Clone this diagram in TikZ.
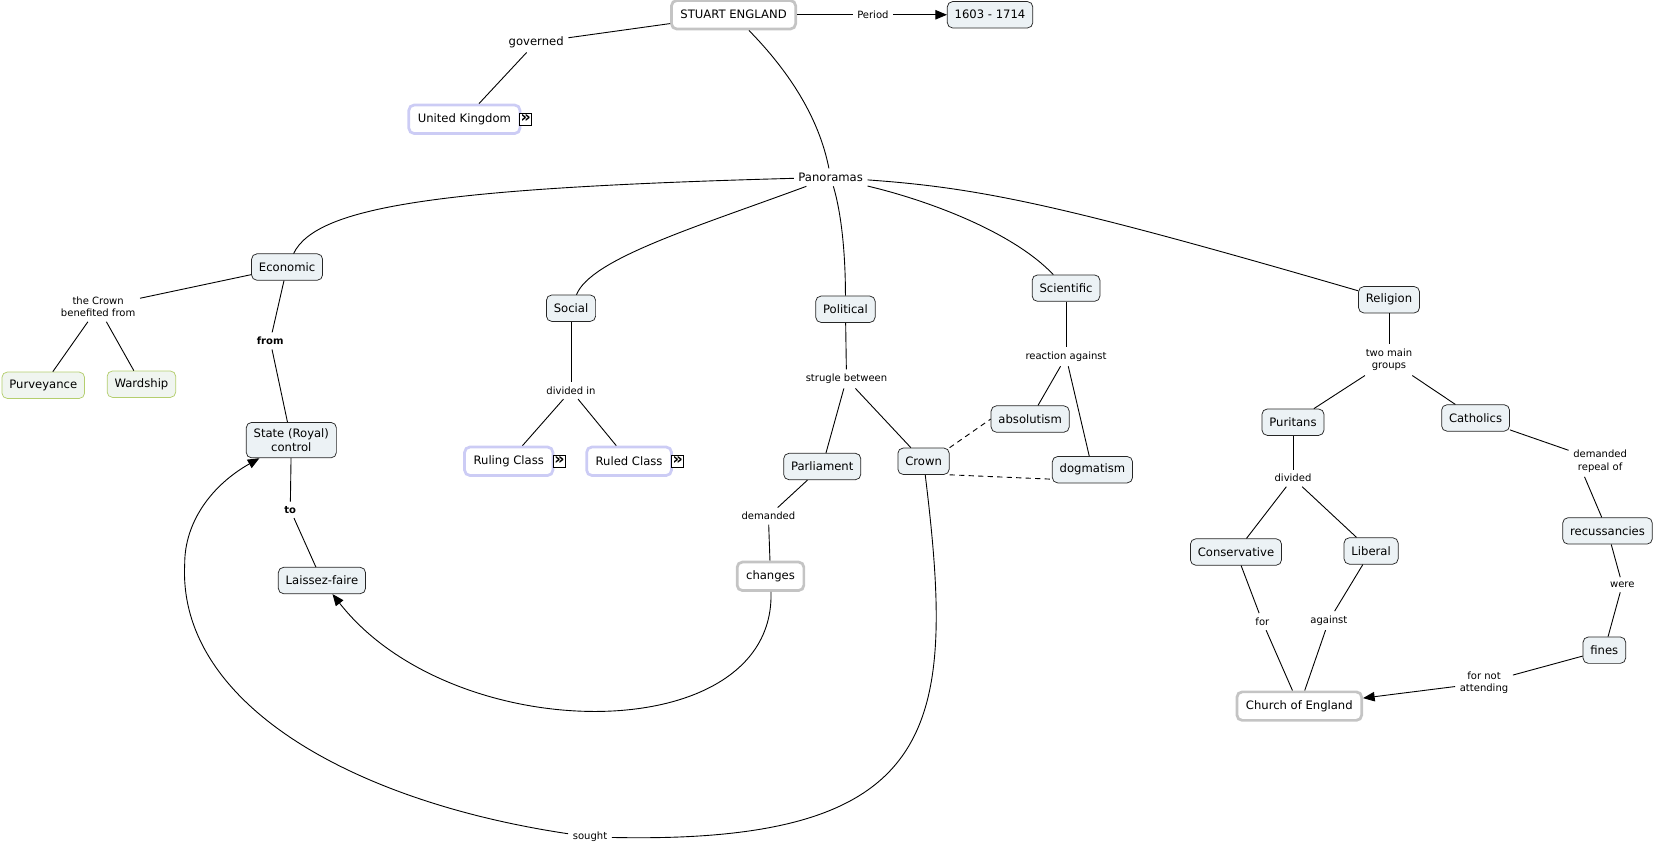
\documentclass[tikz,border=0pt]{standalone}
\usepackage{fontspec}
\setmainfont{DejaVu Sans}
\usetikzlibrary{arrows.meta}

\definecolor{conceptfill}{RGB}{236,242,245}
\definecolor{mainborder}{RGB}{196,196,196}
\definecolor{linkborder}{RGB}{204,204,245}
\definecolor{leafborder}{RGB}{180,206,110}
\definecolor{leaffill}{RGB}{240,245,240}

\begin{document}
\begin{tikzpicture}[x=1pt, y=-1pt, line width=0.85pt,
  concept/.style={draw=black!85, rounded corners=5pt, fill=conceptfill, align=center,
    font=\fontsize{11}{13}\selectfont, inner xsep=7pt, inner ysep=6pt,
    minimum height=25pt, line width=0.7pt},
  mainconcept/.style={concept, draw=mainborder, fill=white, line width=2.6pt,
    inner xsep=8.5pt, minimum height=27pt},
  linkconcept/.style={mainconcept, draw=linkborder},
  leafconcept/.style={concept, draw=leafborder, fill=leaffill},
  phrase/.style={align=center, inner sep=4pt, font=\fontsize{9.5}{11.5}\selectfont},
  bigphrase/.style={phrase, font=\fontsize{11}{13}\selectfont},
  boldphrase/.style={phrase, font=\fontsize{9.5}{11.5}\selectfont\bfseries},
  more/.style={draw, fill=white, line width=0.8pt, inner sep=0pt, minimum size=11.5pt,
    font=\fontsize{15}{15}\selectfont\bfseries},
  arrowed/.style={-{Triangle[length=11pt,width=9pt]}}]
  \useasboundingbox (0,0) rectangle (1568,802);

  % top of the map
  \node[mainconcept] (stuart) at (695,14) {STUART ENGLAND};
  \node[concept] (years) at (938,14) {1603 - 1714};
  \node[phrase] (period) at (827,14) {Period};
  \node[bigphrase] (governed) at (508,40) {governed};
  \node[linkconcept] (uk) at (440,113) {United Kingdom};
  \node[more] (ukmore) at (498,113) {\raisebox{1pt}{»}};
  \node[bigphrase] (pan) at (787,168) {Panoramas};

  \draw (stuart) -- (period);
  \draw[arrowed] (period) -- (years);
  \draw (stuart) -- (governed);
  \draw (governed) -- (uk);
  \draw (stuart) .. controls (748,68) and (776,112) .. (pan);

  % economic
  \node[concept] (econ) at (272,253) {Economic};
  \node[phrase] (benefit) at (93,291) {the Crown\\benefited from};
  \node[leafconcept] (purv) at (41,365) {Purveyance};
  \node[leafconcept] (ward) at (134,364) {Wardship};
  \node[boldphrase] (from) at (256,323) {from};
  \node[concept] (state) at (276,417) {State (Royal)\\control};
  \node[boldphrase] (to) at (275,483) {to};
  \node[concept] (laissez) at (305,550) {Laissez-faire};

  \draw (econ) -- (benefit);
  \draw (benefit) -- (purv);
  \draw (benefit) -- (ward);
  \draw (econ) -- (from);
  \draw (from) -- (state);
  \draw (state) -- (to);
  \draw (to) -- (laissez);

  % social
  \node[concept] (social) at (541,292) {Social};
  \node[phrase] (dividedin) at (541,370) {divided in};
  \node[linkconcept] (ruling) at (482,437) {Ruling Class};
  \node[more] (rulingmore) at (530,437) {\raisebox{1pt}{»}};
  \node[linkconcept] (ruled) at (596,437) {Ruled Class};
  \node[more] (ruledmore) at (642,437) {\raisebox{1pt}{»}};

  \draw (social) -- (dividedin);
  \draw (dividedin) -- (ruling);
  \draw (dividedin) -- (ruled);

  % political
  \node[concept] (political) at (801,293) {Political};
  \node[phrase] (strugle) at (802,359) {strugle between};
  \node[concept] (parliament) at (779,442) {Parliament};
  \node[concept] (crown) at (875,437) {Crown};
  \node[phrase] (demanded) at (728,489) {demanded};
  \node[mainconcept] (changes) at (730,546) {changes};
  \node[phrase] (sought) at (559,793) {sought};

  \draw (political) -- (strugle);
  \draw (strugle) -- (parliament);
  \draw (strugle) -- (crown);
  \draw (parliament) -- (demanded);
  \draw (demanded) -- (changes);
  \draw[arrowed] (changes) .. controls (735,710) and (430,710) .. (laissez);
  \draw (crown) .. controls (906,690) and (892,800) .. (sought);
  \draw[arrowed] (sought) .. controls (331,759) and (168,665) .. (175,534)
    .. controls (175,495) and (200,460) .. (state);

  % scientific
  \node[concept] (scientific) at (1010,273) {Scientific};
  \node[phrase] (reaction) at (1010,338) {reaction against};
  \node[concept] (absolutism) at (976,397) {absolutism};
  \node[concept] (dogmatism) at (1035,445) {dogmatism};

  \draw (scientific) -- (reaction);
  \draw (reaction) -- (absolutism);
  \draw (reaction) -- (dogmatism);
  \draw[dash pattern=on 5pt off 4pt] (crown.north east) -- (absolutism.west);
  \draw[dash pattern=on 5pt off 4pt] (crown.south east) -- ([yshift=-9pt]dogmatism.west);

  % religion
  \node[concept] (religion) at (1316,284) {Religion};
  \node[phrase] (twomain) at (1316,341) {two main\\groups};
  \node[concept] (puritans) at (1225,400) {Puritans};
  \node[concept] (catholics) at (1398,396) {Catholics};
  \node[phrase] (divided) at (1225,453) {divided};
  \node[phrase] (repeal) at (1516,437) {demanded\\repeal of};
  \node[concept] (conservative) at (1171,523) {Conservative};
  \node[concept] (liberal) at (1299,522) {Liberal};
  \node[concept] (recuss) at (1523,503) {recussancies};
  \node[phrase] (for) at (1196,589) {for};
  \node[phrase] (against) at (1259,588) {against};
  \node[phrase] (were) at (1537,554) {were};
  \node[concept] (fines) at (1520,616) {fines};
  \node[phrase] (fornot) at (1406,647) {for not\\attending};
  \node[mainconcept] (church) at (1231,669) {Church of England};

  \draw (religion) -- (twomain);
  \draw (twomain) -- (puritans);
  \draw (twomain) -- (catholics);
  \draw (puritans) -- (divided);
  \draw (divided) -- (conservative);
  \draw (divided) -- (liberal);
  \draw (conservative) -- (for);
  \draw (for) -- (church);
  \draw (liberal) -- (against);
  \draw (against) -- (church);
  \draw (catholics) -- (repeal);
  \draw (repeal.-135) -- (recuss);
  \draw (recuss) -- (were);
  \draw (were) -- (fines);
  \draw (fines) -- (fornot);
  \draw[arrowed] (fornot) -- (church);

  % panoramas to the five branches
  \draw (pan) .. controls (420,178) and (300,195) .. (econ);
  \draw (pan) .. controls (660,215) and (560,245) .. (social);
  \draw (pan) .. controls (798,205) and (801,245) .. (political);
  \draw (pan) .. controls (880,190) and (960,220) .. (scientific);
  \draw (pan) .. controls (930,178) and (1010,195) .. (religion);

\end{tikzpicture}
\end{document}
